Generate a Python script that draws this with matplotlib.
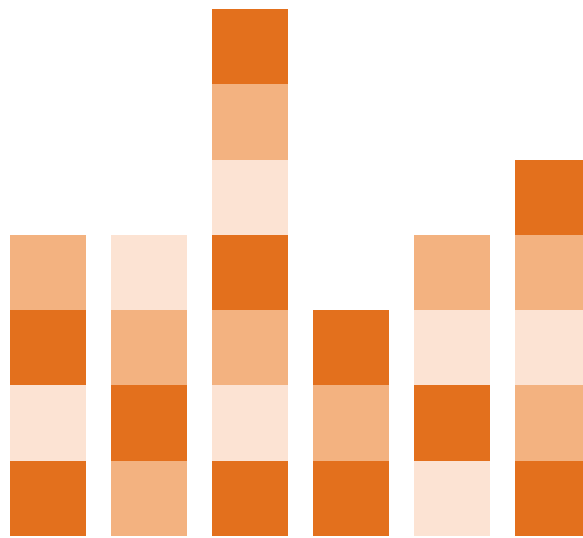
import numpy as np
from matplotlib import pyplot as plt

# one entry per block, bottom to top: 0 = dark, 1 = medium, 2 = light
col_a = [0, 2, 0, 1]
col_b = [1, 0, 1, 2]
col_c = [0, 2, 1, 0, 2, 1, 0]
col_d = [0, 1, 0]
col_e = [2, 0, 2, 1]
col_f = [0, 1, 2, 1, 0]
columns = [col_a, col_b, col_c, col_d, col_e, col_f]

shades = ["#E3701D", "#F3B280", "#FCE3D3"]

dpi = 100
fig = plt.figure(figsize=(5.83, 5.38), dpi=dpi)
ax = fig.add_axes([0, 0, 1, 1])

for i, col in enumerate(columns):
    for level, shade in enumerate(col):
        ax.bar(i, 1, bottom=level, width=0.75, color=shades[shade], linewidth=0)

ax.set_xlim(-0.475, 5.297)
ax.set_ylim(-0.027, 7.12)
ax.axis("off")

fig.savefig("out.png", dpi=dpi)
